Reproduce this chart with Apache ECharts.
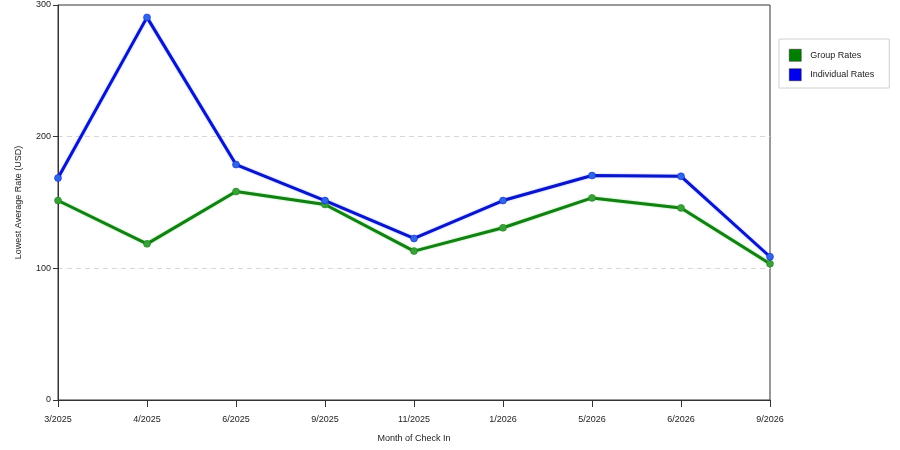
<!DOCTYPE html>
<html>
<head>
<meta charset="utf-8">
<script src="https://cdn.jsdelivr.net/npm/echarts@6/dist/echarts.min.js"></script>
<style>
  html, body { margin: 0; padding: 0; background: #fff; }
  #chart { width: 900px; height: 450px; }
</style>
</head>
<body>
<div id="chart"></div>
<script>
var months = ['3/2025', '4/2025', '6/2025', '9/2025', '11/2025', '1/2026', '5/2026', '6/2026', '9/2026'];
var groupRates = [151.5, 118.6, 158.3, 148.5, 113.1, 130.8, 153.5, 145.9, 103.5];
var individualRates = [168.6, 290.6, 178.8, 151.5, 122.7, 151.5, 170.5, 169.9, 108.8];

var chart = echarts.init(document.getElementById('chart'));

function lineSeries(name, data, lineColor, dotColor, glow) {
  return {
    name: name,
    type: 'line',
    data: data,
    symbol: 'circle',
    symbolSize: 7,
    lineStyle: { color: lineColor, width: 3, shadowColor: glow, shadowBlur: 2 },
    itemStyle: { color: dotColor, borderColor: lineColor, borderWidth: 0.5 },
    emphasis: { disabled: true },
    animation: false
  };
}

var option = {
  backgroundColor: '#ffffff',
  textStyle: { fontFamily: 'Liberation Sans' },
  grid: {
    left: 58, right: 130, top: 5, bottom: 50,
    show: true, borderColor: '#333', borderWidth: 1
  },
  legend: {
    orient: 'vertical',
    left: 779, top: 39,
    width: 95,
    padding: [10, 15, 7, 10],
    itemGap: 7,
    itemWidth: 12, itemHeight: 12,
    borderColor: '#d0d0d0', borderWidth: 1,
    icon: 'rect',
    textStyle: { fontSize: 9, color: '#222', fontFamily: 'Liberation Sans', padding: [0, 0, 0, 4] },
    data: [
      { name: 'Group Rates', itemStyle: { color: '#008000', borderColor: '#222', borderWidth: 0.5 } },
      { name: 'Individual Rates', itemStyle: { color: '#0000ee', borderColor: '#222', borderWidth: 0.5 } }
    ]
  },
  xAxis: {
    type: 'category',
    data: months,
    boundaryGap: false,
    name: 'Month of Check In',
    nameLocation: 'middle',
    nameGap: 34,
    nameTextStyle: { fontSize: 9, color: '#222' },
    axisLine: { lineStyle: { color: '#333' } },
    axisTick: { show: true, length: 7, lineStyle: { color: '#333' } },
    axisLabel: { fontSize: 9, color: '#222', margin: 15 },
    splitLine: { show: false }
  },
  yAxis: {
    type: 'value',
    min: 0, max: 300, interval: 100,
    name: 'Lowest Average Rate (USD)',
    nameLocation: 'middle',
    nameGap: 35,
    nameTextStyle: { fontSize: 9, color: '#222' },
    axisLine: { show: true, lineStyle: { color: '#333' } },
    axisTick: { show: true, length: 5, lineStyle: { color: '#333' } },
    axisLabel: { fontSize: 9, color: '#222', margin: 7 },
    splitLine: {
      show: true, showMinLine: false, showMaxLine: false,
      lineStyle: { color: '#d8d8d8', type: [5, 4] }
    }
  },
  series: [
    lineSeries('Group Rates', groupRates, '#138013', '#3aa03a', 'rgba(60,200,60,0.6)'),
    lineSeries('Individual Rates', individualRates, '#0a14c8', '#2f66e8', 'rgba(80,110,255,0.6)')
  ]
};

chart.setOption(option);
</script>
</body>
</html>
